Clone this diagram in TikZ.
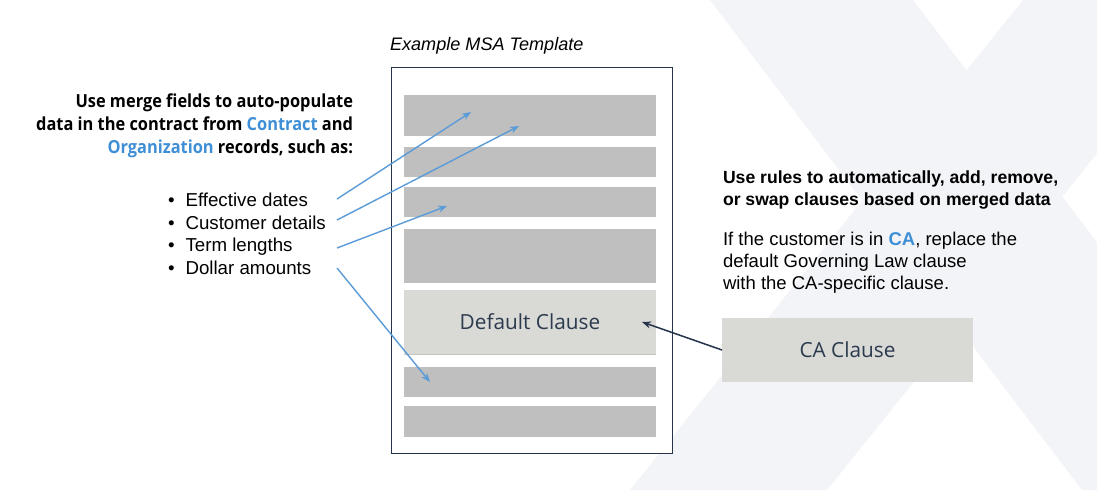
\documentclass[tikz,border=0pt]{standalone}
\usepackage{fontspec}
\setmainfont{Liberation Sans}
\newfontfamily\osans{Open Sans}
\newfontfamily\osansnarrow[FakeStretch=0.91]{Open Sans}
\usetikzlibrary{arrows.meta,calc}
\definecolor{blueT}{HTML}{3F8FD6}
\definecolor{blueA}{HTML}{5B9BD8}
\definecolor{navy}{HTML}{25344A}
\definecolor{barG}{HTML}{BFBFBF}
\definecolor{clauseG}{HTML}{D9D9D6}
\definecolor{clauseLine}{HTML}{C4C4C2}
\definecolor{bgX}{HTML}{F3F4F8}
\definecolor{clauseTxt}{HTML}{2C3A4E}
\begin{document}
\begin{tikzpicture}[x=1pt,y=-1pt,
  bar/.style={fill=barG, draw=none, anchor=north west, minimum width=252pt, inner sep=0pt, outer sep=0pt},
  clause/.style={fill=clauseG, draw=none, anchor=north west, inner sep=0pt, outer sep=0pt, text=clauseTxt, font=\osans\fontsize{20.8}{24}\selectfont},
  bluearrow/.style={draw=blueA, line width=1.4pt, -{Stealth[length=9pt,width=7pt]}},
  navyarrow/.style={draw=navy, line width=1.5pt, -{Stealth[length=9pt,width=7pt]}},
  txt/.style={inner sep=0pt, outer sep=0pt}
]
\useasboundingbox (0,0) rectangle (1097,490);
\fill[white] (0,0) rectangle (1097,490);
\begin{scope}
  \clip (0,0) rectangle (1097,490);
  \fill[bgX] (710,0) -- (913,0) -- (1285,490) -- (1082,490) -- cycle;
  \fill[bgX] (1023,0) -- (1220,0) -- (827,490) -- (630,490) -- cycle;
\end{scope}

% title
\node[txt, anchor=base west, font=\itshape\fontsize{18.1}{21}\selectfont] (title) at (390,50) {Example MSA Template};

% document
\node[draw=navy, line width=1.3pt, fill=white, anchor=north west, minimum width=281pt, minimum height=386pt, inner sep=0pt] (doc) at (391,67) {};

\node[bar, minimum height=41pt] (b1) at (404,95) {};
\node[bar, minimum height=30pt] (b2) at (404,147) {};
\node[bar, minimum height=30pt] (b3) at (404,187) {};
\node[bar, minimum height=54pt] (b4) at (404,229) {};
\node[clause, minimum width=252pt, minimum height=64pt] (def) at (404,290) {Default Clause};
\draw[clauseLine, line width=1pt] (def.south west) -- (def.south east);
\node[bar, minimum height=30pt] (b5) at (404,367) {};
\node[bar, minimum height=31pt] (b6) at (404,406) {};

% left text
\node[txt, anchor=north east, align=right, font=\osansnarrow\bfseries\fontsize{18}{23}\selectfont] (lefthead) at (353,94)
  {Use merge fields to auto-populate\\data in the contract from {\color{blueT}Contract} and\\{\color{blueT}Organization} records, such as:};

\node[txt, anchor=north west, font=\fontsize{18.7}{22.5}\selectfont] (bullets) at (168,191)
  {\begin{tabular}{@{}l@{\hspace{11pt}}l@{}}
   \textbullet & Effective dates\\
   \textbullet & Customer details\\
   \textbullet & Term lengths\\
   \textbullet & Dollar amounts
   \end{tabular}};

% right text
\node[txt, anchor=north west, align=left, font=\bfseries\fontsize{17.6}{22}\selectfont] (righthead) at (723,171)
  {Use rules to automatically, add, remove,\\or swap clauses based on merged data};
\node[txt, anchor=north west, align=left, font=\fontsize{18.5}{22}\selectfont] (rightpar) at (723,232)
  {If the customer is in {\color{blueT}\bfseries CA}, replace the\\default Governing Law clause\\with the CA-specific clause.};

\node[clause, minimum width=251pt, minimum height=64pt] (ca) at (722,318) {CA Clause};

% arrows
\coordinate (s1) at (337,199);
\coordinate (s2) at (337,220);
\coordinate (s3) at (337,248);
\coordinate (s4) at (337,268);
\coordinate (t1) at (471,112);
\coordinate (t2) at (519,126);
\coordinate (t3) at (447,206);
\coordinate (t4) at (430,382);
\draw[bluearrow] (s1) -- (t1);
\draw[bluearrow] (s2) -- (t2);
\draw[bluearrow] (s3) -- (t3);
\draw[bluearrow] (s4) -- (t4);
\draw[navyarrow] (ca.west) -- ($(def.east)+(-14,0)$);
\end{tikzpicture}
\end{document}
